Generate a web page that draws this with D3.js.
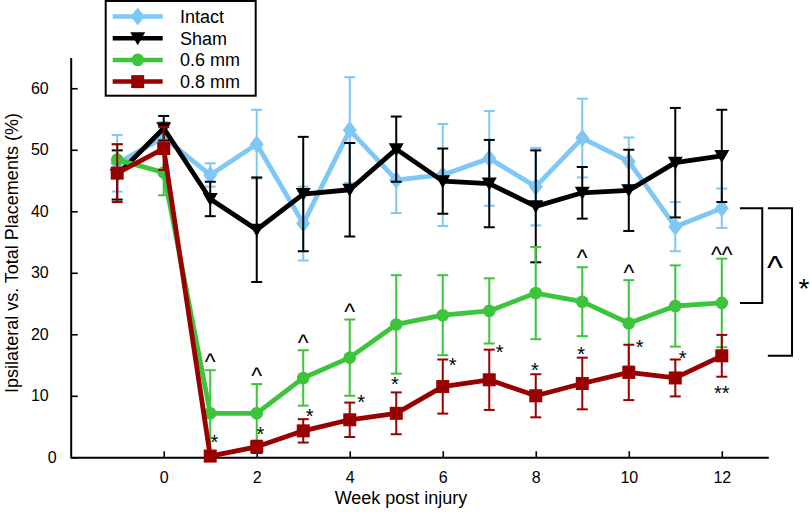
<!DOCTYPE html>
<html><head><meta charset="utf-8">
<script src="https://cdn.jsdelivr.net/npm/d3@7/dist/d3.min.js"></script>
<style>body{margin:0;background:#fff}svg{display:block}text{font-family:"Liberation Sans",Arial,Helvetica,sans-serif}</style>
</head><body>
<svg id="c" width="810" height="512"></svg>
<script>
// ---- data ----
const weeks = [-1,0,1,2,3,4,5,6,7,8,9,10,11,12];
const seriesNames = ["Intact","Sham","0.6 mm","0.8 mm"];
const intactMean = [47.8,52.0,45.9,50.9,38.0,53.2,45.1,45.9,48.6,44.0,51.9,48.1,37.5,40.5];
const intactErr  = [4.6,2.5,1.9,5.6,6.0,8.6,5.4,8.3,7.7,6.3,6.4,3.9,4.0,3.2];
const shamMean   = [45.9,53.5,42.0,37.0,42.8,43.5,50.1,44.9,44.5,40.8,43.0,43.4,47.9,49.0];
const shamErr    = [4.0,2.0,2.8,8.5,9.3,7.6,5.3,5.3,7.1,9.1,4.2,6.6,8.9,7.5];
const mm06Mean   = [48.4,46.3,7.15,7.15,12.9,16.2,21.6,23.1,23.8,26.7,25.3,21.8,24.6,25.1];
const mm06Err    = [2.5,3.7,7.0,4.75,4.5,6.2,8.0,6.5,5.3,7.5,5.6,7.0,6.6,7.2];
const mm08Mean   = [46.2,50.2,0.2,1.7,4.3,6.1,7.15,11.5,12.6,10.0,12.0,13.8,12.9,16.5];
const mm08Err    = [4.7,3.5,0.4,1.0,1.9,2.8,3.4,4.4,4.9,3.5,4.2,4.5,3.0,3.4];
const xTicks = [0,2,4,6,8,10,12];
const yTicks = [0,10,20,30,40,50,60];
// significance marks: week (data x), value (data y of symbol centre), label
const caretWeeks  = [1,2,3,4,9,10,12];
const caretValues = [16.2,13.8,19.3,24.3,33.1,30.6,33.6];
const caretLabels = ["^","^","^","^","^","^","^^"];
const starWeeks   = [1.09,2.08,3.14,4.245,4.97,6.215,7.225,7.98,8.975,10.235,11.16,12.0];
const starValues  = [3.25,4.55,7.4,9.75,12.7,15.7,17.8,15.0,17.6,18.6,16.9,11.2];
const starLabels  = ["*","*","*","*","*","*","*","*","*","*","*","**"];
// group comparison brackets at week 12 (x extent in weeks)
const bracketLabels = ["^","*"];
const bracketX0 = [12.39,12.99];
const bracketX1 = [12.87,13.51];

// ---- setup ----
const svg = d3.select("#c");
const x = d3.scaleLinear().domain([-2,13]).range([70.7,768.3]);
const y = d3.scaleLinear().domain([0,65]).range([457.3,57.5]);
const colors = ["#7fc8f5","#000000","#3cc43c","#990000"];
const means = [intactMean,shamMean,mm06Mean,mm08Mean];
const errs = [intactErr,shamErr,mm06Err,mm08Err];
const symbols = ["diamond","triangle","circle","square"];

function drawMarker(g, type, cx, cy, color){
  if(type==="diamond"){
    g.append("path").attr("d",`M${cx},${cy-9}L${cx+7},${cy}L${cx},${cy+9}L${cx-7},${cy}Z`).attr("fill",color);
  } else if(type==="triangle"){
    g.append("path").attr("d",`M${cx-7.5},${cy-6}L${cx+7.5},${cy-6}L${cx},${cy+7}Z`).attr("fill",color);
  } else if(type==="circle"){
    g.append("circle").attr("cx",cx).attr("cy",cy).attr("r",6.3).attr("fill",color);
  } else {
    g.append("rect").attr("x",cx-6.5).attr("y",cy-6.5).attr("width",13).attr("height",13).attr("fill",color);
  }
}

// ---- axes ----
const xAxis = svg.append("g").attr("transform",`translate(0,${y(0)})`)
  .call(d3.axisBottom(x).tickValues(xTicks).tickSizeInner(-6).tickSizeOuter(0).tickPadding(14));
const yAxis = svg.append("g").attr("transform",`translate(${x(-2)},0)`)
  .call(d3.axisLeft(y).tickValues(yTicks).tickSizeInner(-7).tickSizeOuter(0).tickPadding(22));
[xAxis,yAxis].forEach(a=>{
  a.select(".domain").attr("stroke","#000").attr("stroke-width",2);
  a.selectAll(".tick line").attr("stroke","#000").attr("stroke-width",1.6);
  a.selectAll(".tick text").attr("font-size",16).attr("fill","#000")
   .attr("font-family","'Liberation Sans',Arial,sans-serif");
});
yAxis.selectAll(".tick text").filter(d=>d===0).attr("dx",8);

svg.append("text").attr("x",401).attr("y",504).attr("text-anchor","middle")
  .attr("font-size",18).text("Week post injury");
svg.append("text").attr("transform","translate(18,253) rotate(-90)").attr("text-anchor","middle")
  .attr("font-size",18).text("Ipsilateral vs. Total Placements (%)");

// ---- series ----
const line = d3.line().x(d=>x(d[0])).y(d=>y(d[1]));
means.forEach((m,si)=>{
  const g = svg.append("g");
  const col = colors[si];
  weeks.forEach((w,i)=>{
    const cx = x(w), top = y(m[i]+errs[si][i]), bot = y(Math.max(0,m[i]-errs[si][i]));
    g.append("line").attr("x1",cx).attr("x2",cx).attr("y1",top).attr("y2",bot).attr("stroke",col).attr("stroke-width",2);
    [top,bot].forEach(yy=>g.append("line").attr("x1",cx-5.5).attr("x2",cx+5.5).attr("y1",yy).attr("y2",yy).attr("stroke",col).attr("stroke-width",2));
  });
  g.append("path").datum(weeks.map((w,i)=>[w,m[i]])).attr("d",line)
    .attr("fill","none").attr("stroke",col).attr("stroke-width",4.8).attr("stroke-linejoin","round");
  weeks.forEach((w,i)=>drawMarker(g,symbols[si],x(w),y(m[i]),col));
});

// ---- significance marks ----
caretWeeks.forEach((w,i)=>{
  svg.append("text").attr("x",x(w)).attr("y",y(caretValues[i])+12).attr("text-anchor","middle")
    .attr("font-size",23).text(caretLabels[i]);
});
starWeeks.forEach((w,i)=>{
  svg.append("text").attr("x",x(w)).attr("y",y(starValues[i])+11.5).attr("text-anchor","middle")
    .attr("font-size",20).text(starLabels[i]);
});

// ---- brackets ----
const bracketTargets = [mm06Mean[13], mm08Mean[13]];
bracketTargets.forEach((v,i)=>{
  const x0 = x(bracketX0[i]), x1 = x(bracketX1[i]);
  const yt = y(intactMean[13]), yb = y(v);
  svg.append("path").attr("d",`M${x0},${yt}H${x1}V${yb}H${x0}`)
    .attr("fill","none").attr("stroke","#000").attr("stroke-width",2);
});
svg.append("text").attr("x",x(12.39)+35).attr("y",(y(intactMean[13])+y(mm06Mean[13]))/2+23.5)
  .attr("text-anchor","middle").attr("font-size",34).text(bracketLabels[0]);
svg.append("text").attr("x",x(13.51)+12).attr("y",(y(intactMean[13])+y(mm08Mean[13]))/2+16)
  .attr("text-anchor","middle").attr("font-size",28).text(bracketLabels[1]);

// ---- legend ----
const lg = svg.append("g");
lg.append("rect").attr("x",105.7).attr("y",1).attr("width",150).attr("height",94.7)
  .attr("fill","#fff").attr("stroke","#000").attr("stroke-width",2);
seriesNames.forEach((n,i)=>{
  const yy = 16.5 + i*21.7;
  lg.append("line").attr("x1",112.7).attr("x2",162.7).attr("y1",yy).attr("y2",yy)
    .attr("stroke",colors[i]).attr("stroke-width",4.5);
  drawMarker(lg,symbols[i],137.7,yy,colors[i]);
  lg.append("text").attr("x",180).attr("y",yy+6.5).attr("font-size",18).text(n);
});
</script>
</body></html>
